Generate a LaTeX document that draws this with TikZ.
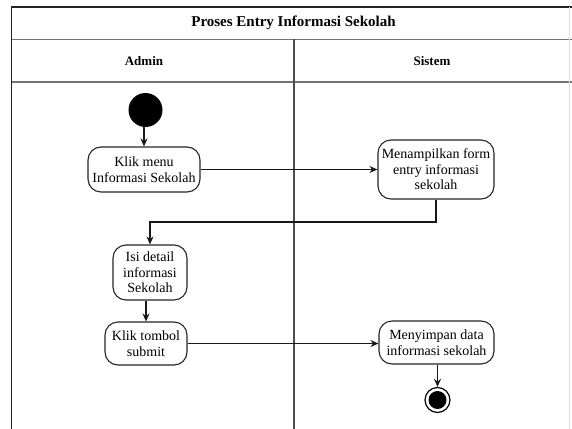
\documentclass[tikz,border=0pt]{standalone}
\usepackage{fontspec}
\setmainfont{Liberation Serif}
\usetikzlibrary{arrows.meta}
\begin{document}
\begin{tikzpicture}[x=1pt,y=-1pt,
  frame/.style={line width=1.4pt, draw=black!85},
  sep/.style={line width=1.6pt, draw=black!55},
  activity/.style={draw=black!85, line width=1.1pt, rounded corners=13pt,
    align=center, inner sep=1pt, font=\fontsize{14}{15.5}\selectfont, fill=white},
  flow/.style={line width=1.2pt, draw=black!90, -{Stealth[length=8pt,width=7pt]}},
  lanetitle/.style={font=\bfseries\fontsize{13}{15}\selectfont},
]
\useasboundingbox (0,0) rectangle (572,428);
\fill[white] (0,0) rectangle (572,428);

% pool frame and lanes
\draw[frame] (11.5,430) -- (11.5,7) -- (575,7);
\draw[sep] (11.5,39.5) -- (575,39.5);
\draw[sep] (11.5,82) -- (575,82);
\draw[line width=1.3pt, draw=black!70] (294,39.5) -- (294,430);
\draw[line width=0.6pt, draw=black!12] (569,7) -- (569,430);

\node[font=\bfseries\fontsize{15}{17}\selectfont] (title) at (293.5,23) {Proses Entry Informasi Sekolah};
\node[lanetitle] (admin) at (144,61.5) {Admin};
\node[lanetitle] (sistem) at (432,61.5) {Sistem};

% start and end
\node[circle, fill=black, minimum size=34pt, inner sep=0pt] (start) at (145.5,110) {};
\node[circle, draw=black, line width=1.2pt, minimum size=25pt, inner sep=0pt, fill=white] (end) at (437.5,400) {};
\node[circle, fill=black, minimum size=18pt, inner sep=0pt] (endin) at (end) {};

% activities
\node[activity, minimum width=112pt, minimum height=45pt] (klik) at (144,169.5) {Klik menu\\Informasi Sekolah};
\node[activity, minimum width=116pt, minimum height=59pt] (tampil) at (436,169.5) {Menampilkan form\\entry informasi\\sekolah};
\node[activity, minimum width=74pt, minimum height=55pt] (isi) at (150,272.5) {Isi detail\\informasi\\Sekolah};
\node[activity, minimum width=82pt, minimum height=43pt] (tombol) at (146,343.5) {Klik tombol\\submit};
\node[activity, minimum width=115pt, minimum height=43pt] (simpan) at (436.5,342.5) {Menyimpan data\\informasi sekolah};

\coordinate (turn) at (436,222);

% control flow
\draw[flow] (start.south -| klik.north) -- (klik.north);
\draw[flow] (klik.east) -- (tampil.west);
\draw[flow] (tampil.south) -- (turn) -| (isi.north);
\draw[flow] (isi.south -| tombol.north) -- (tombol.north);
\draw[flow] (tombol.east) -- (tombol.east -| simpan.west);
\draw[flow] (simpan.south -| end.north) -- (end.north);
\end{tikzpicture}
\end{document}
